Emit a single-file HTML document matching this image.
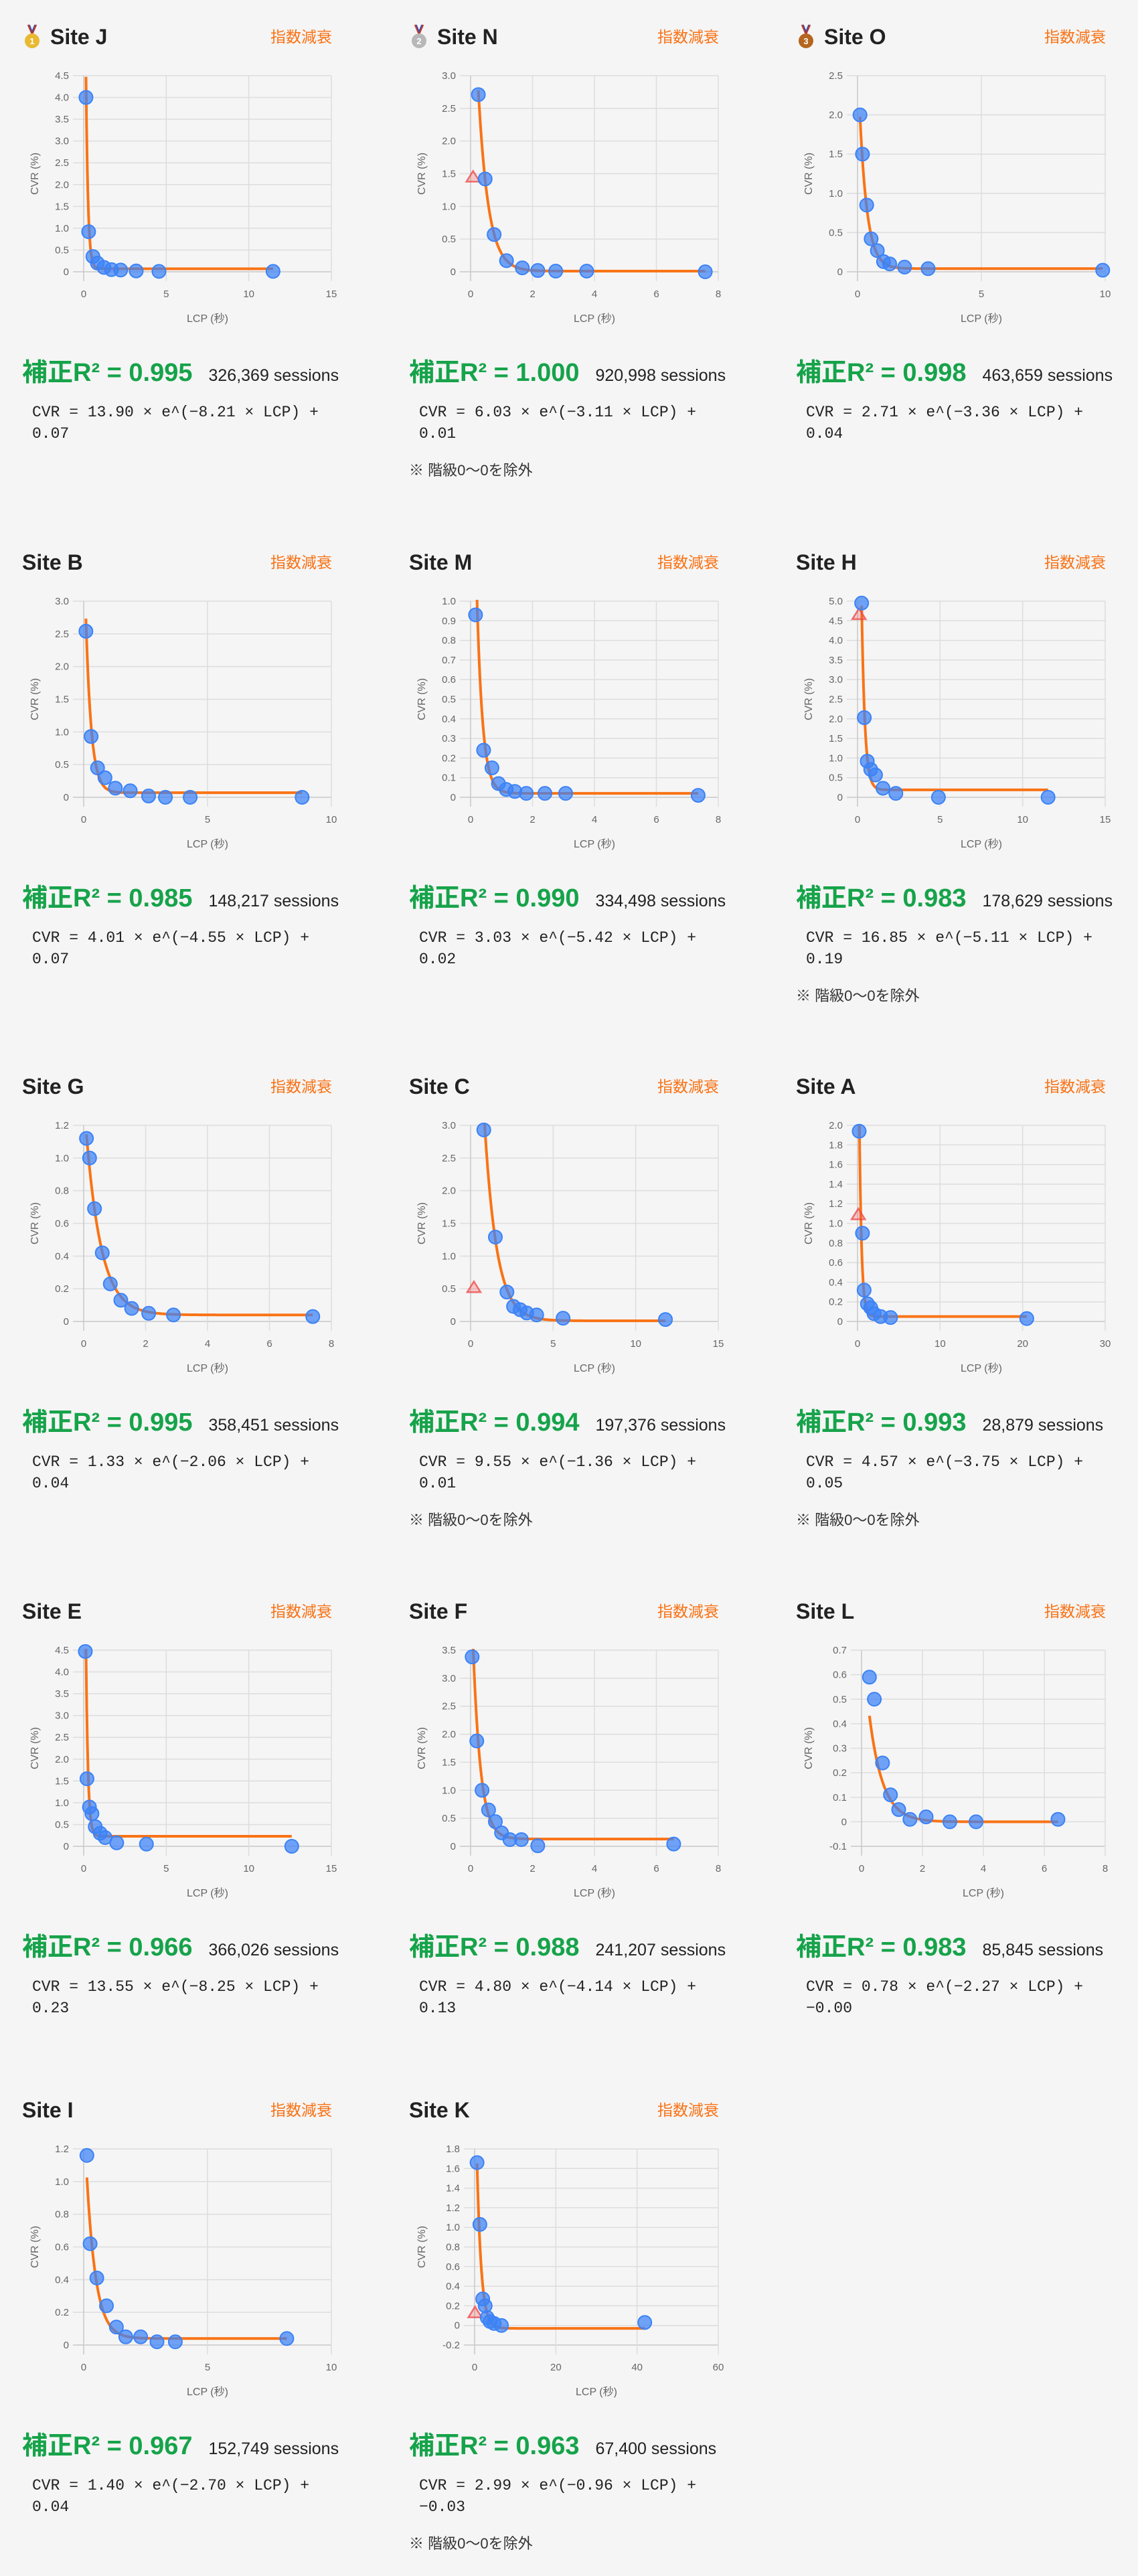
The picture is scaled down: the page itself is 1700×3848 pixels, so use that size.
<!DOCTYPE html>
<html><head><meta charset="utf-8">
<style>
html,body{margin:0;padding:0;background:#f5f5f5;}
body{width:1700px;height:3848px;position:relative;overflow:hidden;font-family:"Liberation Sans","Noto Sans CJK JP",sans-serif;}
.card{position:absolute;width:463px;}
.ttl{position:absolute;left:0;top:-22px;height:44px;display:flex;align-items:center;font-size:32px;font-weight:bold;color:#222;}
.badge{position:absolute;right:0;top:-16px;font-size:23px;color:#f97316;line-height:32px;}
.r2row{position:absolute;left:0;display:flex;align-items:baseline;white-space:nowrap;}
.r2{font-size:38px;font-weight:bold;color:#16a34a;}
.sess{font-size:25px;color:#222;margin-left:24px;}
.formula{position:absolute;left:15px;font-family:"Liberation Mono",monospace;font-size:23px;line-height:32px;color:#222;white-space:pre;}
.note{position:absolute;left:0;font-size:22px;line-height:32px;color:#333;}
svg{overflow:visible;}
svg text{font-family:"Liberation Sans","Noto Sans CJK JP",sans-serif;}
</style></head>
<body>
<script>
const siteNames=['Site J','Site N','Site O','Site B','Site M','Site H','Site G','Site C','Site A','Site E','Site F','Site L','Site I','Site K'];
const xMaxes=[15,8,10,10,8,15,8,15,30,15,8,8,10,60];
const xSteps=[5,2,5,5,2,5,2,5,10,5,2,2,5,20];
const yMins=[0,0,0,0,0,0,0,0,0,0,0,-0.1,0,-0.2];
const yMaxes=[4.5,3,2.5,3,1,5,1.2,3,2,4.5,3.5,0.7,1.2,1.8];
const ySteps=[0.5,0.5,0.5,0.5,0.1,0.5,0.2,0.5,0.2,0.5,0.5,0.1,0.2,0.2];
const pointX=[
[0.14,0.3,0.56,0.83,1.23,1.68,2.24,3.18,4.56,11.47],
[0.25,0.47,0.76,1.16,1.67,2.17,2.75,3.75,7.58],
[0.1,0.2,0.37,0.55,0.8,1.05,1.3,1.9,2.85,9.9],
[0.09,0.3,0.56,0.86,1.28,1.88,2.62,3.3,4.3,8.82],
[0.16,0.42,0.69,0.9,1.15,1.43,1.8,2.4,3.07,7.35],
[0.25,0.41,0.59,0.8,1.09,1.54,2.32,4.9,11.54],
[0.09,0.19,0.35,0.6,0.86,1.2,1.55,2.1,2.9,7.4],
[0.8,1.5,2.2,2.6,3.0,3.4,4.0,5.6,11.8],
[0.2,0.6,0.8,1.2,1.6,2.0,2.8,4.0,20.5],
[0.1,0.2,0.35,0.5,0.7,1.0,1.3,2.0,3.8,12.6],
[0.05,0.2,0.37,0.58,0.8,1.0,1.27,1.64,2.17,6.56],
[0.26,0.42,0.69,0.95,1.22,1.59,2.12,2.9,3.76,6.45],
[0.13,0.26,0.53,0.92,1.32,1.7,2.3,2.96,3.7,8.2],
[0.6,1.3,2.0,2.6,3.1,3.8,4.8,6.6,41.9]];
const pointY=[
[4.0,0.92,0.35,0.2,0.1,0.05,0.04,0.02,0.01,0.01],
[2.71,1.42,0.57,0.17,0.06,0.02,0.01,0.01,0.0],
[2.0,1.5,0.85,0.42,0.27,0.13,0.1,0.06,0.04,0.02],
[2.54,0.93,0.45,0.3,0.14,0.1,0.02,0.0,0.0,0.0],
[0.93,0.24,0.15,0.07,0.04,0.03,0.02,0.02,0.02,0.01],
[4.95,2.03,0.92,0.71,0.57,0.23,0.1,0.0,0.0],
[1.12,1.0,0.69,0.42,0.23,0.13,0.08,0.05,0.04,0.03],
[2.93,1.29,0.45,0.23,0.18,0.13,0.1,0.05,0.03],
[1.94,0.9,0.32,0.18,0.14,0.08,0.05,0.04,0.03],
[4.47,1.55,0.9,0.75,0.45,0.3,0.2,0.08,0.05,0.0],
[3.38,1.88,1.0,0.65,0.44,0.24,0.12,0.12,0.01,0.04],
[0.59,0.5,0.24,0.11,0.05,0.01,0.02,0.0,0.0,0.01],
[1.16,0.62,0.41,0.24,0.11,0.05,0.05,0.02,0.02,0.04],
[1.66,1.03,0.27,0.2,0.08,0.04,0.02,0.0,0.03]];
const excludedX=[[],[0.08],[],[],[],[0.09],[],[0.2],[0.1],[],[],[],[],[0.1]];
const excludedY=[[],[1.45],[],[],[],[4.66],[],[0.52],[1.09],[],[],[],[],[0.13]];
const fitA=[13.90,6.03,2.71,4.01,3.03,16.85,1.33,9.55,4.57,13.55,4.80,0.78,1.40,2.99];
const fitB=[-8.21,-3.11,-3.36,-4.55,-5.42,-5.11,-2.06,-1.36,-3.75,-8.25,-4.14,-2.27,-2.70,-0.96];
const fitC=[0.07,0.01,0.04,0.07,0.02,0.19,0.04,0.01,0.05,0.23,0.13,-0.00,0.04,-0.03];
const fitCText=['0.07','0.01','0.04','0.07','0.02','0.19','0.04','0.01','0.05','0.23','0.13','−0.00','0.04','−0.03'];
const r2Values=['0.995','1.000','0.998','0.985','0.990','0.983','0.995','0.994','0.993','0.966','0.988','0.983','0.967','0.963'];
const sessionCounts=['326,369','920,998','463,659','148,217','334,498','178,629','358,451','197,376','28,879','366,026','241,207','85,845','152,749','67,400'];
const hasNote=[false,true,false,false,false,true,false,true,true,false,false,false,false,true];
const rowTops=[55,840,1623,2407,3152];
const colLefts=[33,611,1189];
const medalColors=['#e8b931','#b8b8b8','#b5651d'];

const NS='http://www.w3.org/2000/svg';
function fmt(v){ if(Math.abs(v)<1e-9) return '0'; return v.toFixed(1); }
function fmtA(v){ return v.toFixed(2); }
function mk(tag,attrs){const e=document.createElementNS(NS,tag);for(const k in attrs)e.setAttribute(k,attrs[k]);return e;}

siteNames.forEach((name,i)=>{
  const T=rowTops[Math.floor(i/3)], L=colLefts[i%3];
  const card=document.createElement('div');
  card.className='card';
  card.style.left=L+'px'; card.style.top=T+'px';
  
  
  document.body.appendChild(card);

  const ttl=document.createElement('div');
  ttl.className='ttl';
  
  
  if(i<3){
    const m=document.createElementNS(NS,'svg');
    m.setAttribute('width','26');m.setAttribute('height','40');m.style.marginRight='14px';m.style.marginLeft='2px';
    
    
    m.appendChild(mk('path',{d:'M7 2 L13 16 L19 2',fill:'none',stroke:'#c0392b','stroke-width':'2.5'}));
    m.appendChild(mk('path',{d:'M9 2 L13 12 L17 2',fill:'none',stroke:'#2b4fc0','stroke-width':'1.5'}));
    m.appendChild(mk('circle',{cx:13,cy:26,r:11,fill:medalColors[i]}));
    const t=mk('text',{x:13,y:31,'text-anchor':'middle','font-size':'13','font-weight':'bold',fill:'#fff'});t.textContent=String(i+1);m.appendChild(t);
    ttl.appendChild(m);
  }
  const nm=document.createElement('span');nm.textContent=name;ttl.appendChild(nm);
  card.appendChild(ttl);

  const badge=document.createElement('div');
  badge.className='badge';badge.textContent='指数減衰';
  
  
  card.appendChild(badge);

  const svg=document.createElementNS(NS,'svg');
  svg.setAttribute('width','463');svg.setAttribute('height','400');
  svg.style.position='absolute';svg.style.left='0';svg.style.top='30px';
  
  
  card.appendChild(svg);
  const pT=28,pB=321,pL=(yMins[i]<0)?98:92,pR=462;
  const x0=0,x1=xMaxes[i],y0=yMins[i],y1=yMaxes[i];
  const sx=v=>pL+(v-x0)/(x1-x0)*(pR-pL);
  const sy=v=>pB-(v-y0)/(y1-y0)*(pB-pT);
  const cid='clip'+i;
  const defs=mk('defs',{});const cp=mk('clipPath',{id:cid});cp.appendChild(mk('rect',{x:pL,y:pT-2,width:pR-pL,height:pB-pT+4}));defs.appendChild(cp);svg.appendChild(defs);
  const nY=Math.round((y1-y0)/ySteps[i]);
  for(let k=0;k<=nY;k++){
    const v=y0+k*ySteps[i], y=sy(v);
    const g=mk('line',{x1:pL-16,x2:pR,y1:y,y2:y,stroke:(k===0?'#c8c8c8':'#dddddd'),'stroke-width':'1.5'});
    
    
    svg.appendChild(g);
    const t=mk('text',{x:pL-22,y:y+5,'text-anchor':'end','font-size':'15',fill:'#666'});t.textContent=fmt(v);
    
    
    svg.appendChild(t);
  }
  const nX=Math.round(x1/xSteps[i]);
  for(let k=0;k<=nX;k++){
    const v=k*xSteps[i],x=sx(v);
    const g=mk('line',{x1:x,x2:x,y1:pT,y2:pB+14,stroke:(k===0?'#c8c8c8':'#dddddd'),'stroke-width':'1.5'});
    
    
    svg.appendChild(g);
    const t=mk('text',{x:x,y:359,'text-anchor':'middle','font-size':'15',fill:'#666'});t.textContent=String(v);
    
    
    svg.appendChild(t);
  }
  const yt=mk('text',{x:0,y:0,'text-anchor':'middle','font-size':'16',fill:'#666',transform:'translate(24,'+((pT+pB)/2)+') rotate(-90)'});yt.textContent='CVR (%)';
  
  
  svg.appendChild(yt);
  const xt=mk('text',{x:(pL+pR)/2,y:396,'text-anchor':'middle','font-size':'16',fill:'#666'});xt.textContent='LCP (秒)';
  
  
  svg.appendChild(xt);
  const xs=pointX[i];const xmn=Math.min(...xs),xmx=Math.max(...xs);
  let d='';
  for(let k=0;k<=300;k++){const xv=xmn+(xmx-xmn)*k/300;const yv=fitA[i]*Math.exp(fitB[i]*xv)+fitC[i];d+=(k?'L':'M')+sx(xv).toFixed(2)+' '+sy(yv).toFixed(2);}
  const fit=mk('path',{d:d,fill:'none',stroke:'#f97316','stroke-width':'4','clip-path':'url(#'+cid+')','stroke-linejoin':'round'});
  
  
  svg.appendChild(fit);
  excludedX[i].forEach((xv,k)=>{
    const cx=sx(xv),cy=sy(excludedY[i][k]);
    const tri=mk('polygon',{points:(cx)+','+(cy-9)+' '+(cx-10)+','+(cy+7)+' '+(cx+10)+','+(cy+7),fill:'rgba(239,68,68,0.25)',stroke:'rgba(239,68,68,0.75)','stroke-width':'2.5'});
    
    
    svg.appendChild(tri);
  });
  xs.forEach((xv,k)=>{
    const c=mk('circle',{cx:sx(xv),cy:sy(pointY[i][k]),r:10,fill:'rgba(59,130,246,0.72)',stroke:'#3b82f6','stroke-width':'2'});
    
    
    svg.appendChild(c);
  });

  const rr=document.createElement('div');
  rr.className='r2row';rr.style.top='470px';
  
  
  const r2=document.createElement('span');r2.className='r2';r2.textContent='補正R² = '+r2Values[i];
  
  
  const ss=document.createElement('span');ss.className='sess';ss.textContent=sessionCounts[i]+' sessions';
  
  
  rr.appendChild(r2);rr.appendChild(ss);card.appendChild(rr);

  const f=document.createElement('div');
  f.className='formula';f.style.top='545px';
  f.textContent='CVR = '+fmtA(fitA[i])+' × e^(−'+fmtA(Math.abs(fitB[i]))+' × LCP) +\n'+fitCText[i];
  
  
  card.appendChild(f);

  if(hasNote[i]){
    const n=document.createElement('div');
    n.className='note';n.style.top='632px';n.textContent='※ 階級0〜0を除外';
    
    
    card.appendChild(n);
  }
});
</script>
</body></html>
